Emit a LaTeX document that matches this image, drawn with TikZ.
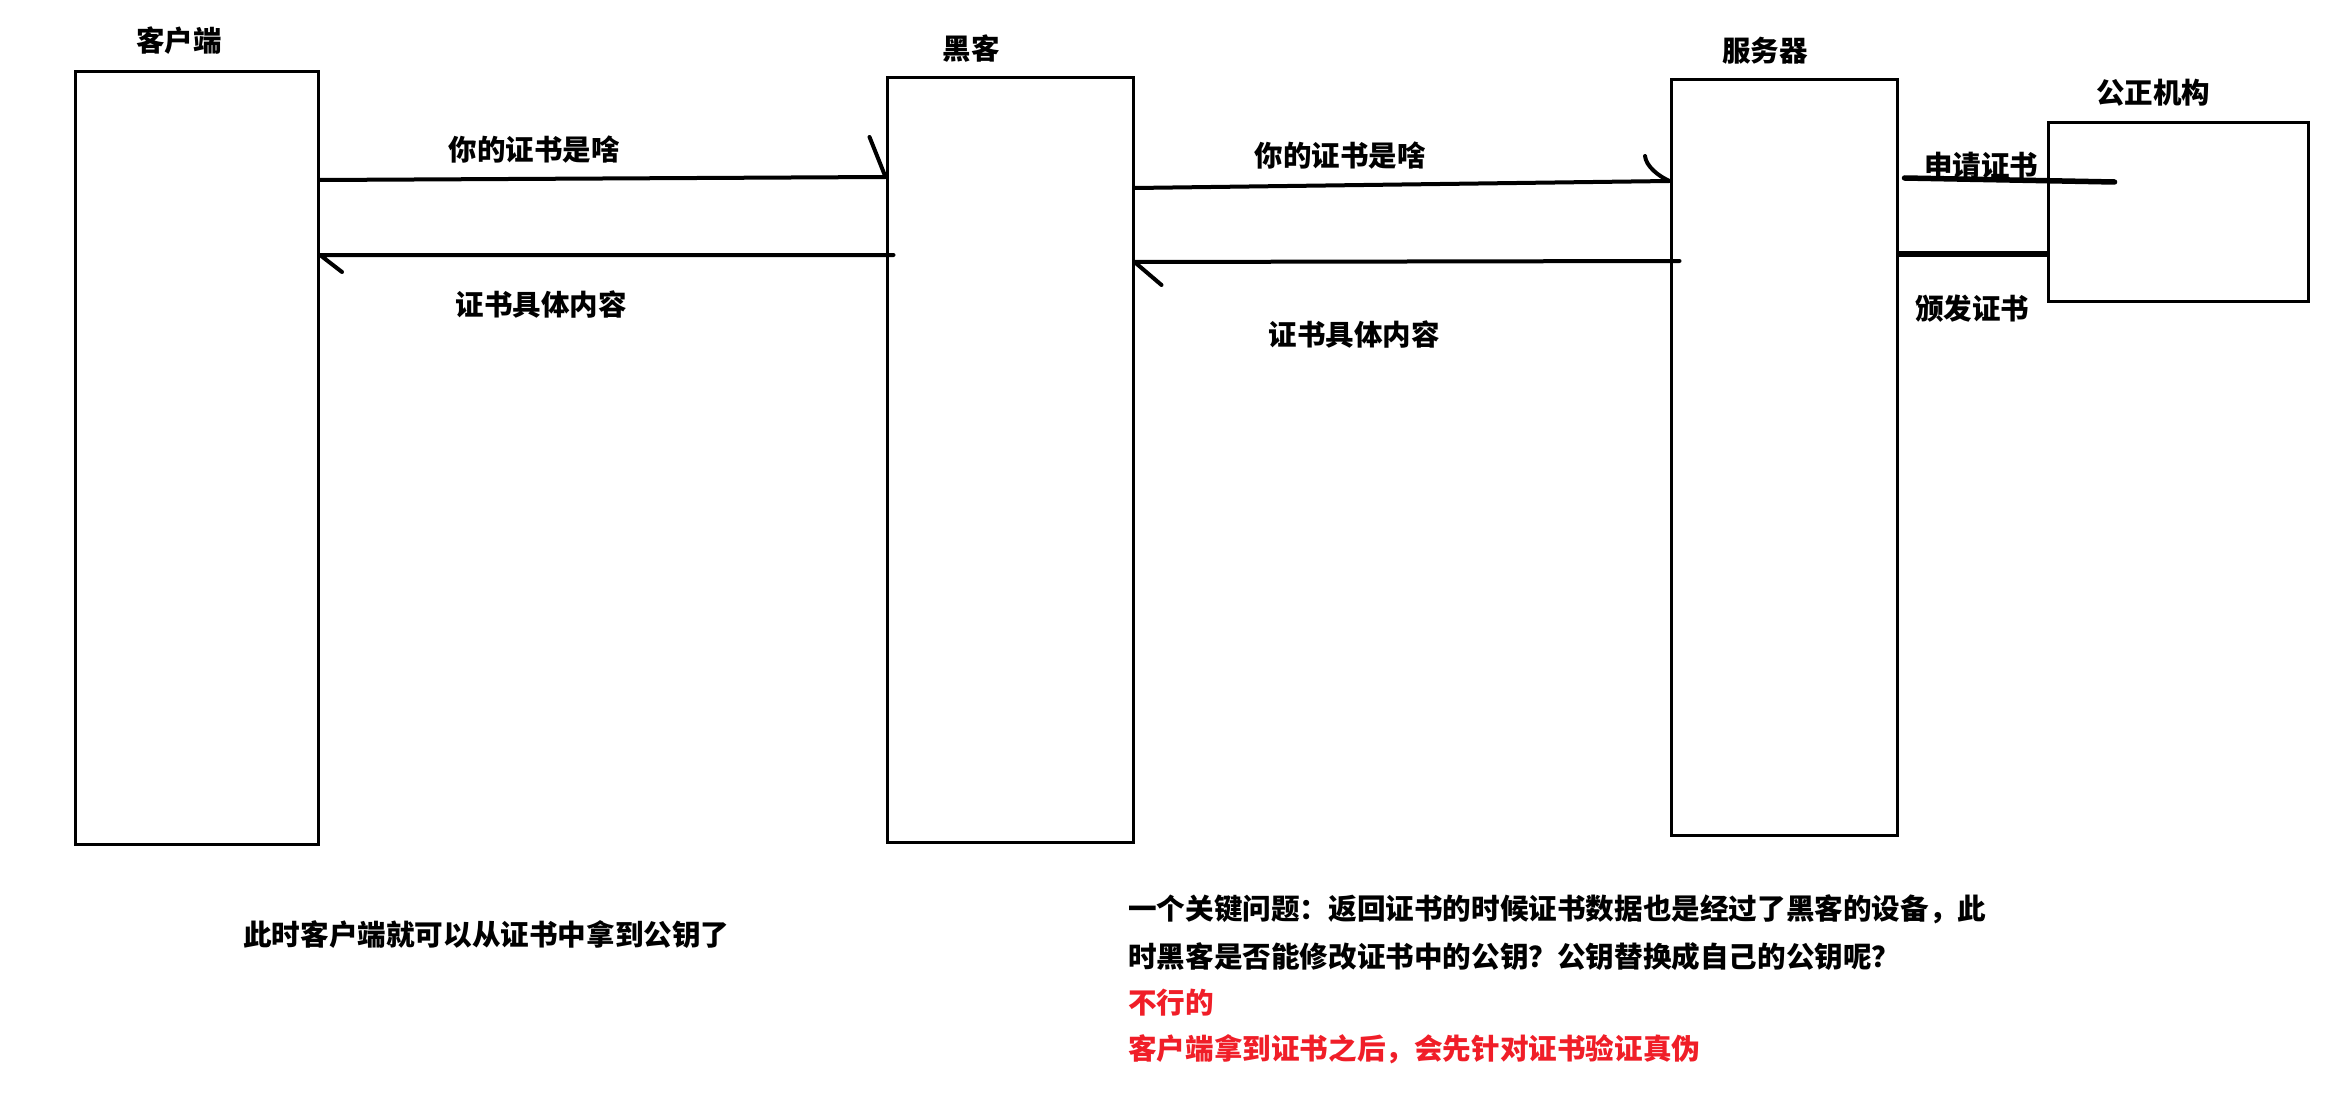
\documentclass[tikz,border=0pt]{standalone}
\usepackage{fontspec}
\setmainfont{Noto Sans CJK SC}
\begin{document}
\begin{tikzpicture}[x=1pt,y=-1pt,
  box/.style={draw=black,line width=3pt,rectangle,inner sep=0pt},
  lbl/.style={inner sep=0pt,font=\fontsize{28.5}{30}\selectfont\bfseries},
  para/.style={inner sep=0pt,anchor=west,font=\fontsize{28.6}{30}\selectfont\bfseries},
  msg/.style={line width=4pt,line cap=round,line join=round},
  thick msg/.style={line width=5.5pt,line cap=round}]
\useasboundingbox[fill=white] (0,0) rectangle (2342,1110);
% boxes
\node[box,minimum width=243pt,minimum height=772pt] (client) at (197,458) {};
\node[box,minimum width=246pt,minimum height=764pt] (hacker) at (1010,460) {};
\node[box,minimum width=226pt,minimum height=755pt] (server) at (1784,457.5) {};
\node[box,minimum width=260pt,minimum height=178pt] (ca) at (2178,212) {};
% titles
\node[lbl] (tclient) at (179,41) {客户端};
\node[lbl] (thacker) at (971,49) {黑客};
\node[lbl] (tserver) at (1765,51) {服务器};
\node[lbl] (tca) at (2153,93) {公正机构};
% message labels
\node[lbl] (l1) at (534,150) {你的证书是啥};
\node[lbl] (l2) at (541,304) {证书具体内容};
\node[lbl] (l3) at (1340,156) {你的证书是啥};
\node[lbl] (l4) at (1354,334) {证书具体内容};
\node[lbl] (l5) at (1981,166) {申请证书};
\node[lbl] (l6) at (1972,309) {颁发证书};
% connectors
\draw[msg] (client.east |- 0,180) -- (hacker.west |- 0,177) -- ++(-16,-40);
\draw[msg] ([xshift=8pt]hacker.west |- 0,255) -- (client.east |- 0,255) -- ++(22,17);
\coordinate (b3) at (1645,156);
\draw[msg] (hacker.east |- 0,188) -- (server.west |- 0,181) .. controls (1658,176) and (1646,166) .. (b3);
\draw[msg] ([xshift=10pt]server.west |- 0,261) -- (hacker.east |- 0,262) -- ++(27,23);
\draw[thick msg] ([xshift=6pt]server.east |- 0,178) -- ([xshift=68pt]ca.west |- 0,182);
\draw[thick msg,line cap=butt] (server.east |- 0,254) -- (ca.west |- 0,254);
% notes
\node[para] (n0) at (243,935) {此时客户端就可以从证书中拿到公钥了};
\node[para] (n1) at (1128,909) {一个关键问题：返回证书的时候证书数据也是经过了黑客的设备，此};
\node[para] (n2) at (1128,957) {时黑客是否能修改证书中的公钥？公钥替换成自己的公钥呢？};
\node[para,text={rgb,255:red,240;green,30;blue,40}] (n3) at (1128,1003) {不行的};
\node[para,text={rgb,255:red,240;green,30;blue,40}] (n4) at (1128,1049) {客户端拿到证书之后，会先针对证书验证真伪};
\end{tikzpicture}
\end{document}
